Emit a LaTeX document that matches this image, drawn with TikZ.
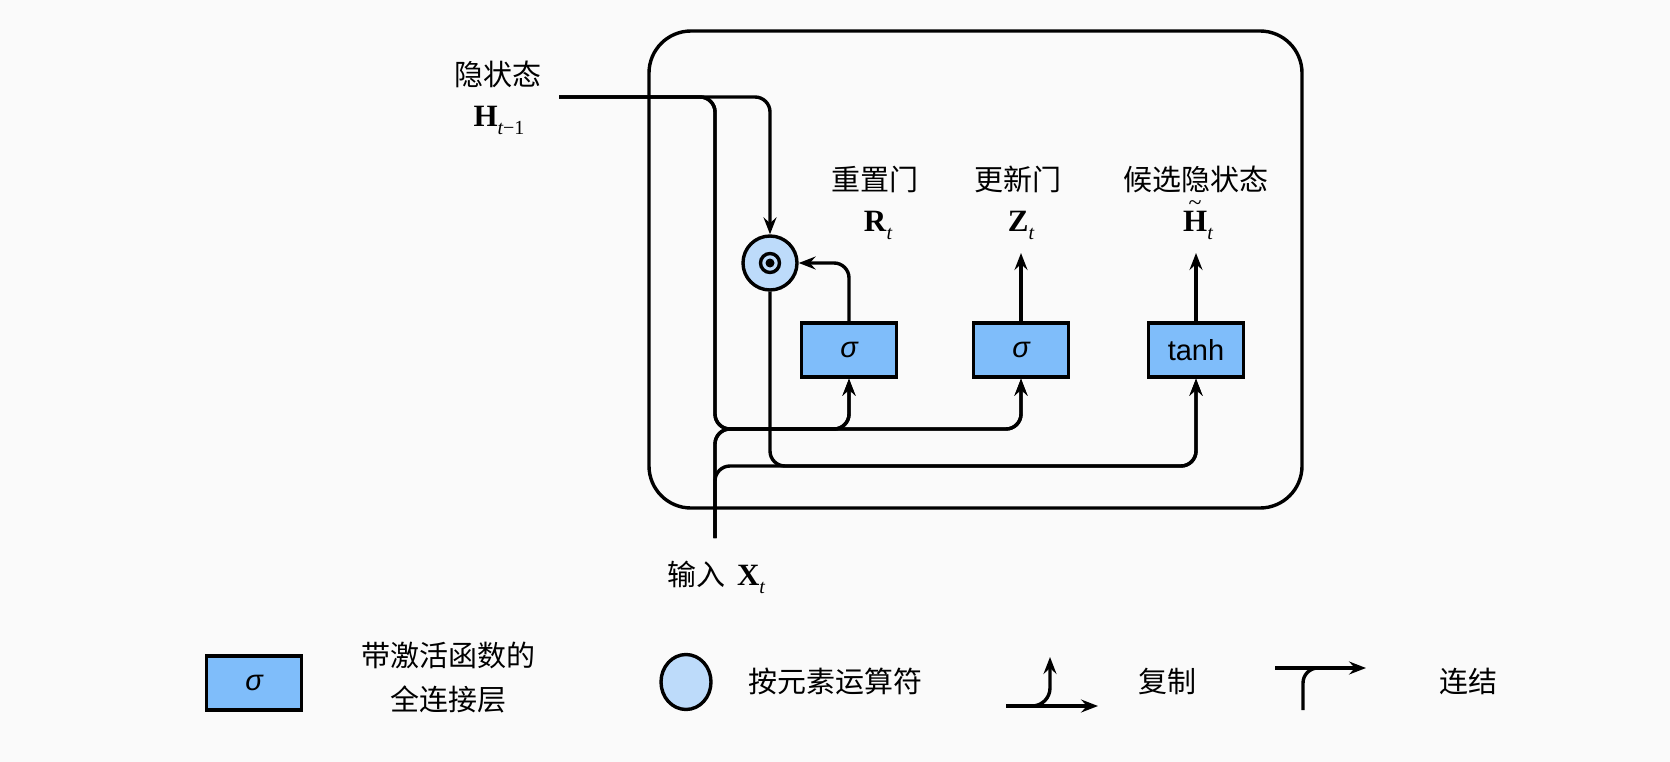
\documentclass[tikz,border=0pt]{standalone}
\usepackage{fontspec}
\setmainfont{Liberation Serif}
\newfontfamily\cjk{Noto Sans CJK SC}
\newfontfamily\sansf{Liberation Sans}
\usetikzlibrary{arrows.meta,shapes.geometric}
\definecolor{bg}{RGB}{250,250,250}
\definecolor{boxblue}{RGB}{127,189,250}
\definecolor{circblue}{RGB}{189,219,250}
\newcommand{\vsub}[2]{\textbf{#1}\raisebox{-8pt}{\fontsize{20}{20}\selectfont #2}}
\newcommand{\tildeHbold}{\ooalign{\textbf{H}\cr\hidewidth\raisebox{21pt}{\fontsize{24}{24}\selectfont\textasciitilde}\hidewidth\cr}}
\begin{document}
\begin{tikzpicture}[x=1pt,y=-1pt,line width=3.4pt,
  arr/.style={-{Stealth[length=17pt,width=13pt,inset=6pt]}},
  gate/.style={draw,fill=boxblue,minimum width=95pt,minimum height=54pt,inner sep=0pt,font=\sansf\fontsize{29}{29}\selectfont},
  cjkt/.style={font=\cjk\fontsize{29}{29}\selectfont,anchor=base,inner sep=0pt},
  mlbl/.style={font=\fontsize{31}{31}\selectfont,anchor=base,inner sep=0pt},
  rc/.style={rounded corners=15pt}]
\fill[bg] (0,0) rectangle (1670,762);
\useasboundingbox (0,0) rectangle (1670,762);
% cell
\node[draw,rounded corners=42pt,minimum width=653pt,minimum height=477pt,inner sep=0pt] (cell) at (975.5,269.5) {};
% gates
\node[gate] (r) at (849,350) {\itshape σ};
\node[gate] (z) at (1021,350) {\itshape σ};
\node[gate] (ht) at (1196,350) {tanh};
\node[circle,draw,fill=circblue,minimum size=54pt,inner sep=0pt] (c) at (770,263) {};
\draw (c.center) circle (9.5pt);
\fill (c.center) circle (4.5pt);
% coordinates
\coordinate (h0) at (559,97);
\coordinate (xin) at (715,538);
\coordinate (ya) at (0,429);
\coordinate (yb) at (0,466);
\coordinate (zt) at (1021,253);
\coordinate (htt) at (1196,253);
% connectors
\draw[arr,rc] (h0) -| (c.north);
\draw[arr,rc] (h0) -| (ya -| xin) -| (r.south);
\draw[arr,rc] (h0) -| (ya -| xin) -| (z.south);
\draw[arr,rc] (xin) |- (ya -| r) -- (r.south);
\draw[arr,rc] (xin) |- (ya -| z) -- (z.south);
\draw[arr,rc] (xin) |- (yb -| ht) -- (ht.south);
\draw[arr,rc] (c.south) |- (yb -| ht) -- (ht.south);
\draw[arr,rc] (r.north) |- (c.east);
\draw[arr] (z.north) -- (zt);
\draw[arr] (ht.north) -- (htt);
% labels
\node[cjkt] (lh) at (498,86) {隐状态};
\node[mlbl] (lhm) at (499,127) {\vsub{H}{\itshape t\upshape −1}};
\node[cjkt] (lr) at (875,191) {重置门};
\node[mlbl] (lrm) at (878,232) {\vsub{R}{\itshape t}};
\node[cjkt] (lz) at (1018,191) {更新门};
\node[mlbl] (lzm) at (1021,232) {\vsub{Z}{\itshape t}};
\node[cjkt] (lc) at (1196,191) {候选隐状态};
\node[mlbl] (lcm) at (1198,232) {\tildeHbold\raisebox{-8pt}{\fontsize{20}{20}\selectfont\itshape t}};
\node[cjkt] (lx) at (716,585) {输入\hspace{12pt}{\rmfamily\fontsize{31}{31}\selectfont\vsub{X}{\itshape t}}};
% legend
\node[gate] (lg) at (254,683) {\itshape σ};
\node[cjkt] (lg1) at (448,666) {带激活函数的};
\node[cjkt] (lg2) at (448,710) {全连接层};
\node[ellipse,draw,fill=circblue,minimum width=50pt,minimum height=55pt,inner sep=0pt] (le) at (686,682) {};
\node[cjkt] (le1) at (835,692) {按元素运算符};
\coordinate (cp0) at (1006,706);
\coordinate (cp1) at (1098,706);
\coordinate (cpt) at (1050,657);
\draw[arr] (cp0) -- (cp1);
\draw[arr,rounded corners=18pt] (cp0) -| (cpt);
\node[cjkt] (lcp) at (1167,692) {复制};
\coordinate (cc0) at (1275,668);
\coordinate (cc1) at (1366,668);
\coordinate (ccm) at (1335,668);
\coordinate (ccb) at (1303,710);
\draw[arr] (cc0) -- (cc1);
\draw[rc] (ccb) |- (ccm);
\node[cjkt] (lcc) at (1468,692) {连结};
\end{tikzpicture}
\end{document}
